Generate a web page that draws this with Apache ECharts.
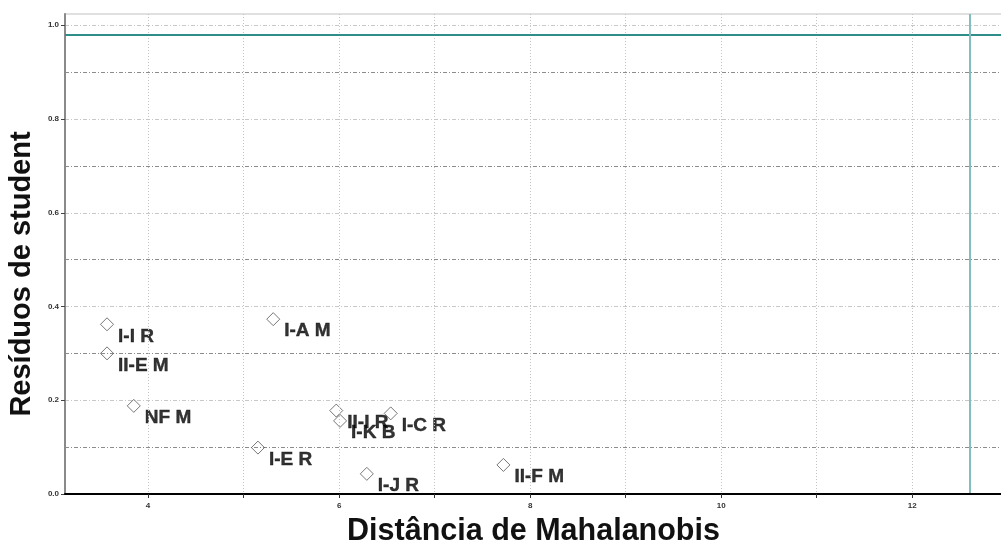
<!DOCTYPE html>
<html>
<head>
<meta charset="utf-8">
<script src="https://cdn.jsdelivr.net/npm/echarts@6/dist/echarts.min.js"></script>
<style>
  html, body { margin: 0; padding: 0; background: #fff; }
  #chart { width: 1001px; height: 545px; }
</style>
</head>
<body>
<div id="chart"></div>
<script>
// Observations: Mahalanobis distance vs. studentized residual
const pointNames   = ['I-I R', 'II-E M', 'NF M', 'I-A M', 'I-E R', 'II-I R', 'I-K B', 'I-C R', 'I-J R', 'II-F M'];
const mahalanobis  = [3.57, 3.57, 3.85, 5.31, 5.15, 5.97, 6.01, 6.54, 6.29, 7.72];
const studentRes   = [0.362, 0.300, 0.188, 0.373, 0.099, 0.178, 0.156, 0.172, 0.043, 0.062];

// Axis ticks and grid positions
const xLabelTicks = [4, 6, 8, 10, 12];
const xGridTicks  = [4, 5, 6, 7, 8, 9, 10, 11, 12];
const yLabelTicks = [0, 0.2, 0.4, 0.6, 0.8, 1.0];
const yGridTicks  = [0.1, 0.2, 0.3, 0.4, 0.5, 0.6, 0.7, 0.8, 0.9, 1.0];

// Critical values (reference lines)
const cutoffResidual = 0.979;
const cutoffDistance = 12.6;

const X_MIN = 3.13, X_MAX = 12.94, Y_MIN = 0, Y_MAX = 1.024;
const FONT = "'Liberation Sans', Arial, Helvetica, sans-serif";

const chart = echarts.init(document.getElementById('chart'), null, { renderer: 'canvas' });

const points = pointNames.map((n, i) => ({ name: n, value: [mahalanobis[i], studentRes[i]] }));

chart.setOption({
  animation: false,
  backgroundColor: '#ffffff',
  grid: {
    left: 65, right: -1, top: 14, bottom: 51,
    containLabel: false, outerBoundsMode: 'none',
    show: true, borderColor: '#e0e0e0', borderWidth: 2, backgroundColor: 'transparent'
  },
  xAxis: {
    type: 'value',
    min: X_MIN,
    max: X_MAX,
    name: 'Distância de Mahalanobis',
    nameLocation: 'middle',
    nameGap: 22,
    nameTextStyle: { fontFamily: FONT, fontSize: 30.5, fontWeight: 'bold', color: '#111' },
    axisLine: { show: true, onZero: false, lineStyle: { color: '#000', width: 2 } },
    axisTick: { show: true, length: 4, customValues: xGridTicks, lineStyle: { color: '#333', width: 1 } },
    axisLabel: {
      customValues: xLabelTicks,
      margin: 8,
      fontFamily: FONT, fontSize: 8, fontWeight: 'bold', color: '#333',
      formatter: v => String(v)
    },
    splitLine: {
      show: true,
      lineStyle: { color: '#c4c4c4', width: 1, type: [1, 2] }
    },
    z: 5
  },
  yAxis: [
    {
      type: 'value',
      min: Y_MIN,
      max: Y_MAX,
      name: 'Resíduos de student',
      nameLocation: 'middle',
      nameGap: 28,
      nameTextStyle: {
        fontFamily: FONT, fontSize: 29, fontWeight: 'bold', color: '#111',
        padding: [0, 40, 0, 0]
      },
      axisLine: { show: true, onZero: false, lineStyle: { color: '#8a8a8a', width: 2 } },
      axisTick: { show: true, length: 4, customValues: yLabelTicks, lineStyle: { color: '#444', width: 1 } },
      axisLabel: {
        customValues: yLabelTicks,
        margin: 6,
        fontFamily: FONT, fontSize: 8, fontWeight: 'bold', color: '#333',
        formatter: v => v.toFixed(1)
      },
      splitLine: { show: false },
      z: 4
    },
    {
      // grid lines every 0.1, alternating darker / lighter
      type: 'value',
      position: 'left',
      min: Y_MIN,
      max: Y_MAX,
      axisLine: { show: false },
      axisTick: { show: false, customValues: yGridTicks },
      axisLabel: { show: false },
      splitLine: {
        show: true,
        lineStyle: { color: ['#8c8c8c', '#c8c8c8'], width: 1, type: [4, 2, 1, 2] }
      }
    }
  ],
  series: [
    {
      type: 'scatter',
      data: points,
      symbol: 'diamond',
      symbolSize: 13,
      itemStyle: { color: 'rgba(255,255,255,0)', borderColor: '#555', borderWidth: 1 },
      label: {
        show: true,
        formatter: '{b}',
        position: 'right',
        distance: 4,
        offset: [0, 12],
        fontFamily: FONT, fontSize: 19, fontWeight: 'bold', color: '#000',
        textBorderColor: '#000', textBorderWidth: 0.4
      },
      emphasis: { disabled: true },
      markLine: {
        silent: true,
        symbol: 'none',
        label: { show: false },
        data: [
          { yAxis: cutoffResidual, lineStyle: { color: '#2e8e8a', width: 2, type: 'solid' } },
          { xAxis: cutoffDistance, lineStyle: { color: '#80bfbb', width: 2, type: 'solid' } }
        ]
      },
      z: 3
    }
  ]
});
</script>
</body>
</html>
